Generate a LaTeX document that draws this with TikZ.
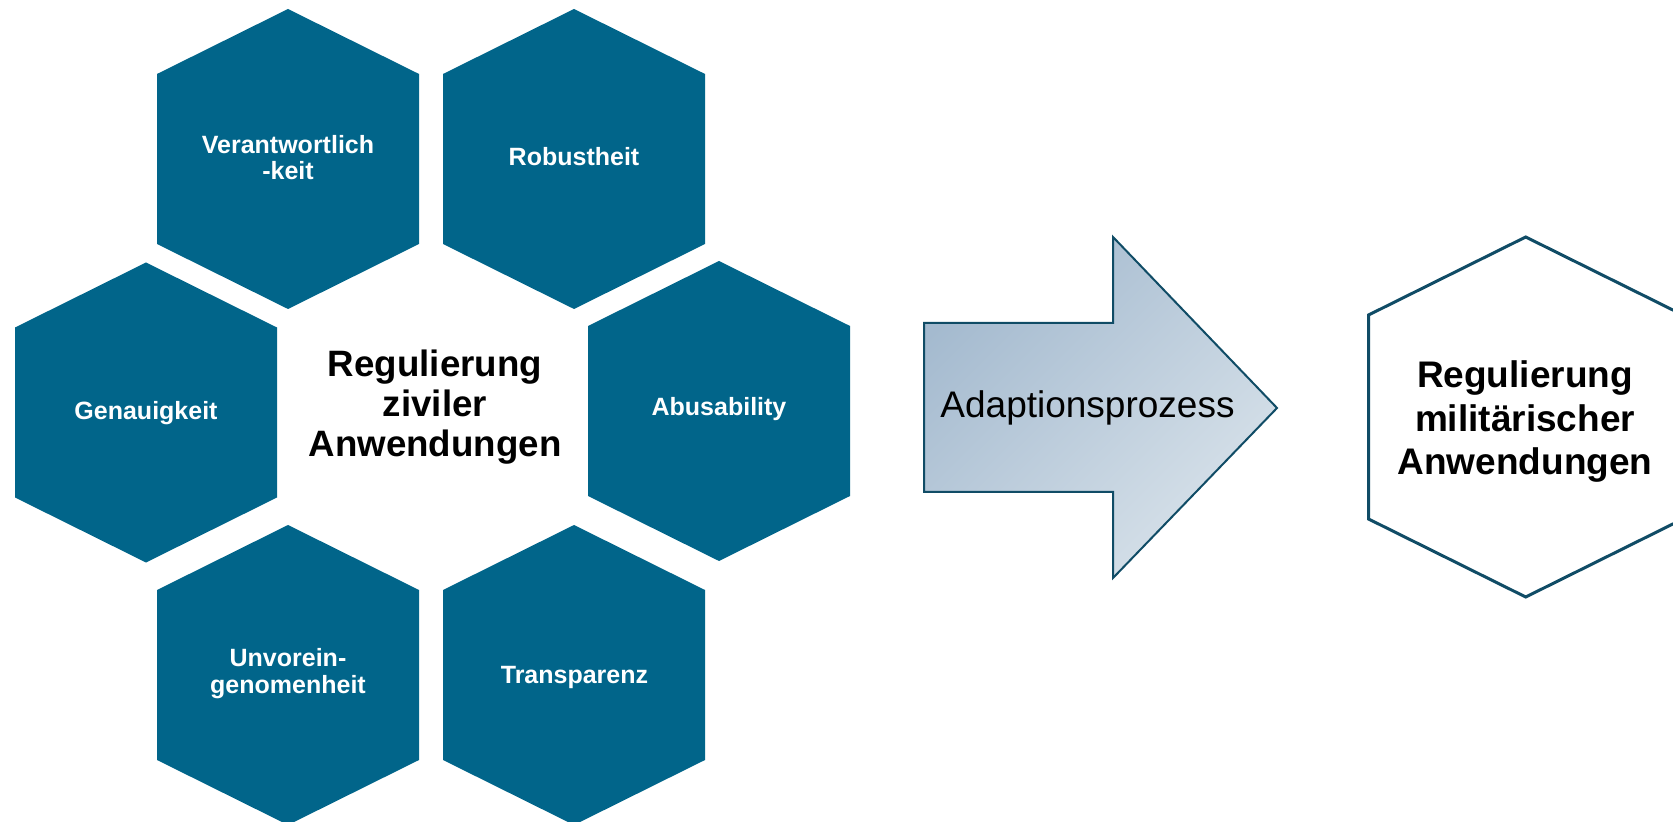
\documentclass[tikz,border=0pt]{standalone}
\usepackage{fontspec}
\setmainfont{Liberation Sans}
\definecolor{hexblue}{RGB}{1,101,138}
\definecolor{edgeblue}{RGB}{16,76,102}
\definecolor{arrowA}{RGB}{164,186,207}
\definecolor{arrowB}{RGB}{216,226,234}
\newcommand\hexshape[4]{% cx, cy, scale, style
  \path[#4] ({#1},{#2-150*#3}) -- ({#1+131*#3},{#2-85*#3}) -- ({#1+131*#3},{#2+85*#3})
    -- ({#1},{#2+150*#3}) -- ({#1-131*#3},{#2+85*#3}) -- ({#1-131*#3},{#2-85*#3}) -- cycle;}
\begin{document}
\begin{tikzpicture}[x=0.5pt,y=-0.5pt,
  hexfill/.style={fill=hexblue},
  hexline/.style={draw=edgeblue,line width=1.5pt,fill=white},
  hextext/.style={text=white,font=\bfseries\fontsize{12.5}{13.35}\selectfont,align=center,inner sep=0pt},
  bigtext/.style={text=black,font=\bfseries\fontsize{18.35}{20}\selectfont,align=center,inner sep=0pt},
  arrowtext/.style={text=black,font=\fontsize{18.5}{21}\selectfont,inner sep=0pt}]
\useasboundingbox (0,0) rectangle (1673,822);
\clip (0,0) rectangle (1673,822);
% honeycomb
\hexshape{288}{159}{1}{hexfill}
\hexshape{574}{159}{1}{hexfill}
\hexshape{146}{412.5}{1}{hexfill}
\hexshape{719}{411}{1}{hexfill}
\hexshape{288}{675}{1}{hexfill}
\hexshape{574}{675}{1}{hexfill}
\node[hextext] (verant) at (288,157.7) {Verantwortlich\\-keit};
\node[hextext,anchor=base] (robust) at (574,166) {Robustheit};
\node[hextext,anchor=base] (genau) at (146,420) {Genauigkeit};
\node[hextext,anchor=base] (abus) at (719,416) {Abusability};
\node[hextext] (unvor) at (288,673.8) {Unvorein-\\genomenheit};
\node[hextext,anchor=base] (transp) at (574.5,683.3) {Transparenz};
\node[bigtext] (zivil) at (435,407) {Regulierung\\ziviler\\Anwendungen};
% arrow
\coordinate (a1) at (924,323);
\coordinate (a2) at (1113,323);
\coordinate (a3) at (1113,237);
\coordinate (a4) at (1277,408);
\coordinate (a5) at (1113,578);
\coordinate (a6) at (1113,492);
\coordinate (a7) at (924,492);
\path[draw=edgeblue,line width=1pt,left color=arrowA,right color=arrowB,shading angle=45]
  (a1) -- (a2) -- (a3) -- (a4) -- (a5) -- (a6) -- (a7) -- cycle;
\node[arrowtext,anchor=base] (adapt) at (1087.5,418) {Adaptionsprozess};
% right hexagon
\hexshape{1525.7}{417}{1.2}{hexline}
\node[bigtext,font=\bfseries\fontsize{18.5}{21.75}\selectfont] (milit) at (1525,422) {Regulierung\\militärischer\\Anwendungen};
\end{tikzpicture}
\end{document}
